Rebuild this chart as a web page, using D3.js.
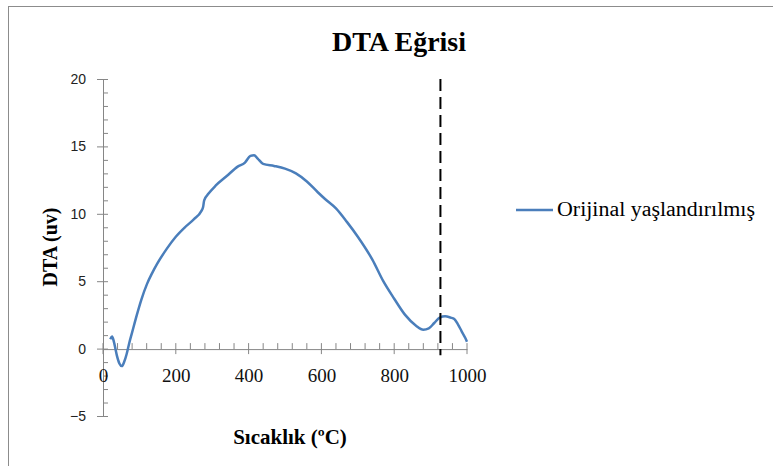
<!DOCTYPE html>
<html>
<head>
<meta charset="utf-8">
<script src="https://cdn.jsdelivr.net/npm/d3@7"></script>
<style>
  body { margin: 0; background: #fff; }
  svg { display: block; }
</style>
</head>
<body>
<svg id="vis" width="773" height="466"></svg>
<script>
// temperature (C) and DTA (uv)
const temps = [20, 25, 30, 38, 45, 52, 58, 65, 72, 80, 93, 105, 121, 135, 149, 175, 200, 225, 250, 270, 275, 278, 290, 310, 340, 370, 390, 405, 415, 425, 440, 470, 500, 530, 560, 590, 610, 640, 670, 700, 740, 770, 800, 830, 860, 880, 895, 910, 925, 940, 955, 965, 975, 985, 995, 1000];
const dta = [0.7, 0.9, 0.5, -0.5, -1.1, -1.3, -1.0, -0.4, 0.4, 1.2, 2.5, 3.6, 4.8, 5.6, 6.3, 7.4, 8.3, 9.0, 9.6, 10.2, 10.5, 11.0, 11.5, 12.1, 12.8, 13.5, 13.8, 14.3, 14.35, 14.1, 13.7, 13.55, 13.35, 13.0, 12.4, 11.6, 11.1, 10.4, 9.4, 8.3, 6.6, 5.0, 3.7, 2.5, 1.7, 1.4, 1.5, 1.9, 2.3, 2.4, 2.3, 2.2, 1.8, 1.3, 0.8, 0.5];
const xTicks = [0, 200, 400, 600, 800, 1000];
const yTicks = [-5, 0, 5, 10, 15, 20];
const markerTemp = 927;
const seriesName = "Orijinal yaşlandırılmış";

const serif = "'Liberation Serif', 'Times New Roman', serif";
const svg = d3.select("svg#vis");

// chart outline
svg.append("rect")
  .attr("x", 8.5).attr("y", 6.5)
  .attr("width", 800).attr("height", 500)
  .attr("fill", "none").attr("stroke", "#8c8c8c");

const x = d3.scaleLinear().domain([0, 1000]).range([103, 467]);
const y = d3.scaleLinear().domain([-5, 20]).range([416, 79]);

const axisColor = "#868686";

// y axis
const gy = svg.append("g").attr("transform", "translate(" + x(0) + ",0)");
gy.call(d3.axisLeft(y).tickValues(yTicks).tickSize(0).tickPadding(17));
gy.select(".domain").attr("stroke", axisColor);
gy.selectAll("text")
  .style("font-family", "'Liberation Sans', Arial, sans-serif")
  .style("font-size", "14px").attr("fill", "#222");
gy.selectAll(".tick line").remove();
// major ticks cross the axis, minor ticks inside
gy.selectAll("line.major").data(yTicks).enter().append("line")
  .attr("x1", -6).attr("x2", 5)
  .attr("y1", d => y(d) + 0.5).attr("y2", d => y(d) + 0.5)
  .attr("stroke", axisColor);
gy.selectAll("line.minor").data(d3.range(-5, 20).filter(v => v % 5 !== 0)).enter().append("line")
  .attr("x1", 0).attr("x2", 5)
  .attr("y1", d => y(d) + 0.5).attr("y2", d => y(d) + 0.5)
  .attr("stroke", axisColor);

// x axis on y = 0
const gx = svg.append("g").attr("transform", "translate(0," + (y(0) + 0.5) + ")");
gx.call(d3.axisBottom(x).tickValues(xTicks).tickFormat(d3.format("d")).tickSize(0).tickPadding(19));
gx.select(".domain").attr("stroke", axisColor);
gx.selectAll(".tick line").remove();
gx.selectAll("text")
  .style("font-family", serif)
  .style("font-size", "19px").attr("fill", "#111");
gx.selectAll("line.major").data(xTicks).enter().append("line")
  .attr("x1", d => x(d)).attr("x2", d => x(d))
  .attr("y1", -6).attr("y2", 5)
  .attr("stroke", axisColor);
gx.selectAll("line.minor").data(d3.range(0, 1000, 40).filter(v => v % 200 !== 0)).enter().append("line")
  .attr("x1", d => x(d)).attr("x2", d => x(d))
  .attr("y1", -6).attr("y2", 0)
  .attr("stroke", axisColor);

// curve
const pts = temps.map((t, i) => [t, dta[i]]);
const line = d3.line().x(d => x(d[0])).y(d => y(d[1])).curve(d3.curveMonotoneX);
svg.append("path")
  .attr("d", line(pts))
  .attr("fill", "none")
  .attr("stroke", "#4a7ebb")
  .attr("stroke-width", 2.5)
  .attr("stroke-linejoin", "round");

// dashed marker line
svg.append("line")
  .attr("x1", x(markerTemp)).attr("x2", x(markerTemp))
  .attr("y1", y(20)).attr("y2", y(-0.5))
  .attr("stroke", "#000").attr("stroke-width", 2)
  .attr("stroke-dasharray", "12,6");

// title
svg.append("text")
  .attr("x", 399).attr("y", 51)
  .attr("text-anchor", "middle")
  .style("font-family", serif)
  .attr("font-weight", "bold").style("font-size", "28px")
  .text("DTA Eğrisi");

// axis titles
svg.append("text")
  .attr("transform", "translate(57,247) rotate(-90)")
  .attr("text-anchor", "middle")
  .style("font-family", serif)
  .attr("font-weight", "bold").style("font-size", "20px")
  .text("DTA (uv)");

svg.append("text")
  .attr("x", 290).attr("y", 444)
  .attr("text-anchor", "middle")
  .style("font-family", serif)
  .attr("font-weight", "bold").style("font-size", "21px")
  .text("Sıcaklık (ºC)");

// legend
const lg = svg.append("g").attr("transform", "translate(516,210)");
lg.append("line").attr("x1", 0).attr("x2", 37).attr("y1", 0).attr("y2", 0)
  .attr("stroke", "#4a7ebb").attr("stroke-width", 2.5);
lg.append("text").attr("x", 41).attr("y", 6)
  .style("font-family", serif)
  .style("font-size", "20px")
  .attr("textLength", 198).attr("lengthAdjust", "spacingAndGlyphs")
  .text(seriesName);
</script>
</body>
</html>
